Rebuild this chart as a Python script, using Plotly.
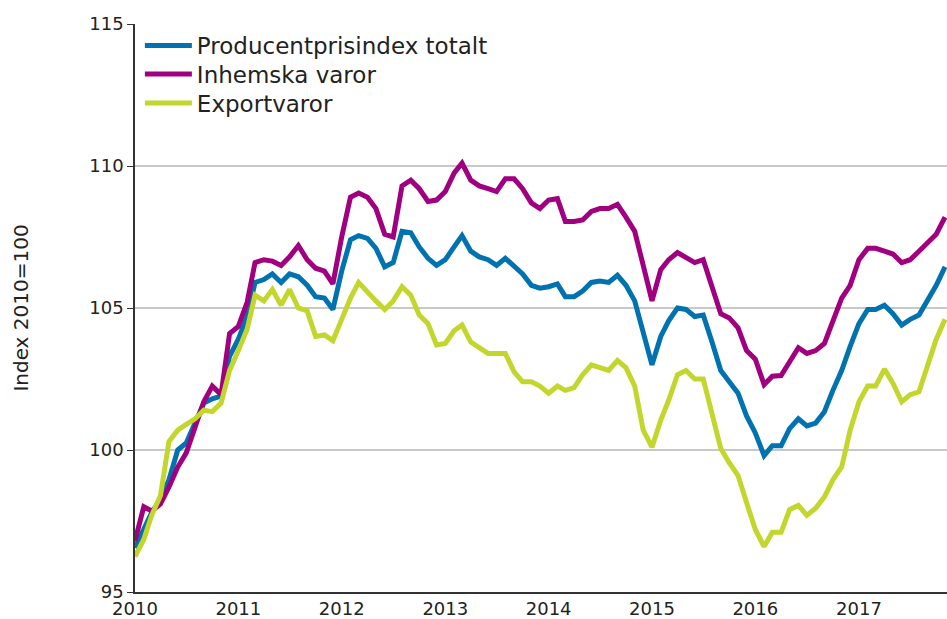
import pandas as pd
import plotly.graph_objects as go

months = pd.date_range("2010-01-01", "2017-11-01", freq="MS")

producentprisindex_totalt = [
    96.55, 97.2, 97.8, 98.25, 98.95, 100.0, 100.25, 100.95, 101.65, 101.8, 101.9, 103.3,
    103.9, 104.7, 105.9, 106.0, 106.2, 105.9, 106.2, 106.1, 105.8, 105.4, 105.35, 104.95,
    106.3, 107.4, 107.55, 107.45, 107.1, 106.45, 106.6, 107.7, 107.65, 107.15, 106.75, 106.5,
    106.7, 107.15, 107.55, 107.0, 106.8, 106.7, 106.5, 106.75, 106.45, 106.2, 105.8, 105.7,
    105.75, 105.85, 105.4, 105.4, 105.6, 105.9, 105.95, 105.9, 106.15, 105.8, 105.25, 104.1,
    103.0, 104.0, 104.55, 105.0, 104.95, 104.7, 104.75, 103.8, 102.8, 102.4, 102.0, 101.2,
    100.6, 99.8, 100.15, 100.15, 100.75, 101.1, 100.85, 100.95, 101.35, 102.1, 102.8, 103.65,
    104.45, 104.95, 104.95, 105.1, 104.8, 104.4, 104.6, 104.75, 105.25, 105.8, 106.45,
]

inhemska_varor = [
    96.8, 98.0, 97.85, 98.1, 98.7, 99.4, 99.9, 100.85, 101.7, 102.25, 101.95, 104.1,
    104.35, 105.2, 106.6, 106.7, 106.65, 106.5, 106.8, 107.2, 106.7, 106.4, 106.3, 105.85,
    107.5, 108.9, 109.05, 108.9, 108.5, 107.6, 107.5, 109.3, 109.5, 109.2, 108.75, 108.8,
    109.1, 109.75, 110.1, 109.5, 109.3, 109.2, 109.1, 109.55, 109.55, 109.2, 108.7, 108.5,
    108.8, 108.85, 108.05, 108.05, 108.1, 108.4, 108.5, 108.5, 108.65, 108.2, 107.7, 106.5,
    105.25, 106.35, 106.7, 106.95, 106.8, 106.6, 106.7, 105.7, 104.8, 104.65, 104.3, 103.5,
    103.2, 102.3, 102.6, 102.62, 103.1, 103.6, 103.4, 103.5, 103.75, 104.6, 105.35, 105.8,
    106.7, 107.1, 107.1, 107.0, 106.9, 106.6, 106.7, 107.0, 107.3, 107.6, 108.2,
]

exportvaror = [
    96.25, 96.85, 97.7, 98.4, 100.3, 100.7, 100.9, 101.1, 101.4, 101.35, 101.65, 102.8,
    103.5, 104.25, 105.45, 105.25, 105.65, 105.1, 105.65, 105.0, 104.9, 104.0, 104.05, 103.85,
    104.6, 105.35, 105.9, 105.55, 105.25, 104.95, 105.25, 105.75, 105.45, 104.75, 104.45, 103.7,
    103.75, 104.2, 104.4, 103.8, 103.6, 103.4, 103.4, 103.4, 102.75, 102.4, 102.4, 102.25,
    102.0, 102.25, 102.1, 102.2, 102.65, 103.0, 102.9, 102.8, 103.15, 102.9, 102.25, 100.7,
    100.1, 101.05, 101.75, 102.65, 102.8, 102.5, 102.5, 101.3, 100.05, 99.55, 99.1, 98.15,
    97.2, 96.6, 97.1, 97.1, 97.9, 98.05, 97.7, 97.95, 98.35, 98.95, 99.4, 100.7,
    101.7, 102.25, 102.25, 102.85, 102.35, 101.7, 101.95, 102.05, 102.95, 103.9, 104.6,
]

series_names = ["Producentprisindex totalt", "Inhemska varor", "Exportvaror"]
series_values = [producentprisindex_totalt, inhemska_varor, exportvaror]
series_colors = ["#0072B0", "#A0007F", "#C2D62E"]
legend_ids = ["legend", "legend2", "legend3"]

year_ticks = [f"{y}-01-01" for y in range(2010, 2018)]
year_labels = [str(y) for y in range(2010, 2018)]
y_ticks = [95, 100, 105, 110, 115]

FONT = "DejaVu Sans"
TXT = "#222222"

fig = go.Figure()
for name, vals, col, lg in zip(series_names, series_values, series_colors, legend_ids):
    fig.add_trace(go.Scatter(
        x=months, y=vals, name=name, mode="lines",
        line=dict(color=col, width=5),
        legend=lg,
    ))

legend_common = dict(
    xanchor="left", yanchor="top", x=0.006,
    bgcolor="rgba(0,0,0,0)",
    font=dict(family=FONT, size=23, color=TXT),
    itemwidth=47,
)

fig.update_layout(
    width=947, height=619,
    margin=dict(l=135, r=0, t=24, b=27),
    paper_bgcolor="white", plot_bgcolor="white",
    font=dict(family=FONT, color=TXT, size=18),
    showlegend=True,
    legend=dict(legend_common, y=1.0),
    legend2=dict(legend_common, y=1.0 - 28.5 / 568),
    legend3=dict(legend_common, y=1.0 - 57.5 / 568),
)

fig.update_xaxes(
    type="date",
    range=["2010-01-01", "2017-11-08"],
    tickvals=year_ticks, ticktext=year_labels,
    showgrid=False, zeroline=False,
    showline=True, linecolor="#333333", linewidth=1.5,
    ticks="", tickfont=dict(family=FONT, size=18, color=TXT),
)

fig.update_yaxes(
    range=[95, 115],
    tickvals=y_ticks,
    showgrid=True, gridcolor="#c8c8c8", gridwidth=1.5,
    zeroline=False,
    showline=True, linecolor="#333333", linewidth=1.5,
    ticks="outside", ticklen=6, tickcolor="#333333",
    tickfont=dict(family=FONT, size=18, color=TXT),
    title=dict(text="Index 2010=100", font=dict(family=FONT, size=20, color=TXT), standoff=55),
)

fig.write_html(
    "out.html",
    config={"displayModeBar": False},
    post_script=(
        "document.body.style.margin='0';"
        "document.body.style.overflow='hidden';"
        "document.documentElement.style.overflow='hidden';"
    ),
)
